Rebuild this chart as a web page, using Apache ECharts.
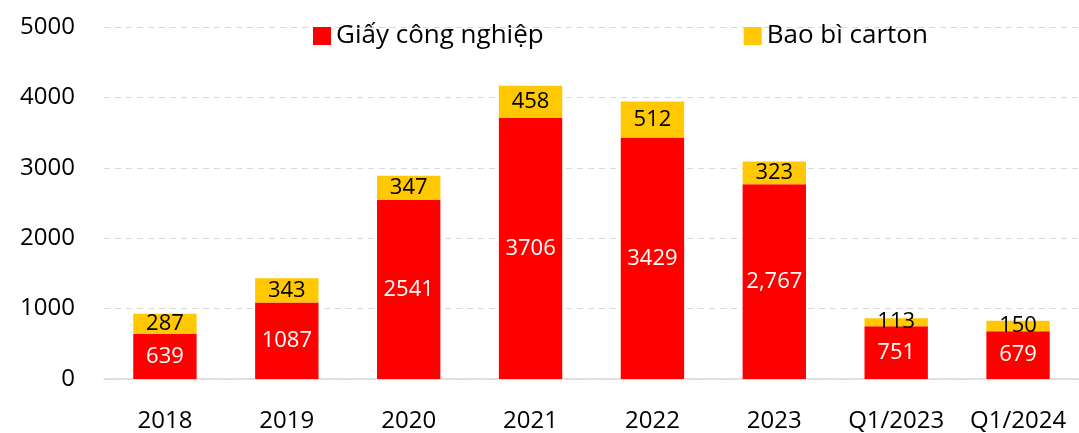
<!DOCTYPE html>
<html><head><meta charset="utf-8">
<script src="https://cdn.jsdelivr.net/npm/echarts@6/dist/echarts.min.js"></script>
<style>html,body{margin:0;padding:0;background:#fff}#c{width:1079px;height:433px}</style>
</head><body><div id="c"></div>
<script>
const categories = ["2018","2019","2020","2021","2022","2023","Q1/2023","Q1/2024"];
const giayValues = [639,1087,2541,3706,3429,2767,751,679];
const giayLabels = ["639","1087","2541","3706","3429","2,767","751","679"];
const cartonValues = [287,343,347,458,512,323,113,150];
const seriesNames = ["Giấy công nghiệp","Bao bì carton"];

const FONT = "Open Sans";
const chart = echarts.init(document.getElementById('c'));
chart.setOption({
  animation:false,
  textStyle:{fontFamily:FONT},
  legend:{
    top:18, left:308, itemWidth:18, itemHeight:18, itemGap:200,
    icon:'rect',
    textStyle:{fontFamily:FONT,fontSize:26,color:'#000'},
    data:seriesNames
  },
  grid:{left:104, right:-12, top:27, bottom:53, containLabel:false},
  xAxis:{
    type:'category', data:categories,
    axisLine:{lineStyle:{color:'#d9d9d9',width:1.5}},
    axisTick:{show:false},
    axisLabel:{fontFamily:FONT,fontSize:24,color:'#000',margin:30,interval:0,hideOverlap:false}
  },
  yAxis:{
    type:'value', min:0, max:5000, interval:1000,
    axisLine:{show:false}, axisTick:{show:false},
    splitLine:{lineStyle:{color:'#d9d9d9',type:[6,5],width:1}},
    axisLabel:{fontFamily:FONT,fontSize:24,color:'#000',margin:29,formatter:v=>String(v)}
  },
  series:[
    {name:seriesNames[0], type:'bar', stack:'a', barWidth:'52%', data:giayValues,
     itemStyle:{color:'#FF0000'},
     label:{show:true, position:'inside', color:'#fff', fontFamily:FONT, fontSize:22,
       formatter:p=>giayLabels[p.dataIndex]}},
    {name:seriesNames[1], type:'bar', stack:'a', barWidth:'52%', data:cartonValues,
     itemStyle:{color:'#FFC800'},
     label:{show:true, position:'inside', color:'#000', fontFamily:FONT, fontSize:22}}
  ]
});
</script></body></html>
